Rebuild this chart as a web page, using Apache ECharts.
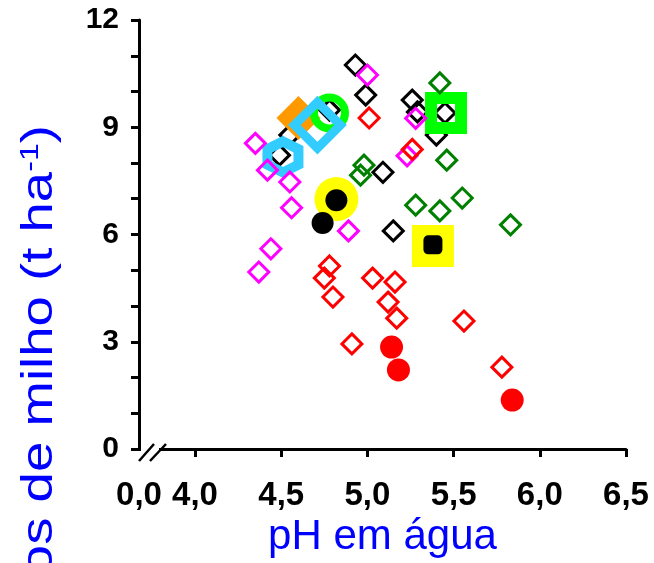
<!DOCTYPE html>
<html lang="pt">
<head>
    <meta charset="UTF-8">
    <title>Milho x pH</title>
    <script src="https://cdn.jsdelivr.net/npm/echarts@6/dist/echarts.min.js"></script>
</head>
<body style="margin:0">
<div id="main" style="width: 654px;height:563px;"></div>
<script>
    // valores [pH, t/ha]
    var magentaOpen = [[4.35,8.55],[4.42,7.8],[4.55,7.47],[4.56,6.75],[4.44,5.6],[4.37,4.95],[4.89,6.1],[5.0,10.46],[5.28,9.25],[5.23,8.2]];
    var redOpen = [[5.01,9.26],[5.26,8.38],[4.78,5.12],[4.75,4.78],[4.8,4.25],[5.03,4.78],[5.16,4.67],[5.12,4.11],[5.17,3.66],[4.91,2.94],[5.56,3.58],[5.78,2.29]];
    var redFilled = [[5.14,2.85],[5.18,2.21],[5.84,1.37]];
    var blackOpen = [[4.93,10.74],[4.99,9.9],[5.09,7.74],[4.49,8.22],[4.55,8.78],[4.78,9.48],[5.26,9.76],[5.29,9.43],[5.45,9.4],[5.4,8.78],[5.15,6.1]];
    var greenOpen = [[5.42,10.24],[5.46,8.08],[4.98,7.94],[4.96,7.66],[5.28,6.82],[5.42,6.66],[5.55,7.02],[5.83,6.27]];
    var blackFilled = [[4.82,6.96],[4.74,6.32]];
    var blackSquare = [[5.38,5.71]];
    var yellowCircle = [[4.82,6.99]];
    var yellowSquare = [[5.38,5.68]];
    var greenSquare = [[5.456,9.4]];
    var greenCircle = [[4.78,9.4]];
    var orangeDiamond = [[4.60,9.26]];
    var cyanDiamond = [[4.71,9.06]];
    var cyanHex = [[4.51,8.17]];

    var xMin = 3.675;
    var xTicks = [4.0, 4.5, 5.0, 5.5, 6.0, 6.5];
    var xLabels = [xMin].concat(xTicks);

    var hexagon = 'path://M50,0 L93.3,25 L93.3,75 L50,100 L6.7,75 L6.7,25 Z';

    function open(name, data, color, symbol, size, bw) {
        return {
            name: name, type: 'scatter', data: data,
            symbol: symbol, symbolSize: size,
            itemStyle: {color: 'transparent', borderColor: color, borderWidth: bw, opacity: 1}
        };
    }
    function filled(name, data, color, symbol, size) {
        return {
            name: name, type: 'scatter', data: data,
            symbol: symbol, symbolSize: size,
            itemStyle: {color: color, opacity: 1}
        };
    }

    var myChart = echarts.init(document.getElementById('main'));
    var option = {
        animation: false,
        grid: {left: 139, top: 20, right: 28, bottom: 114, outerBoundsMode: 'none'},
        xAxis: {
            type: 'value', min: xMin, max: 6.5,
            name: 'pH em água', nameLocation: 'middle', nameGap: 66,
            nameTextStyle: {color: '#0000ff', fontSize: 42, fontFamily: 'Liberation Sans'},
            splitLine: {show: false},
            axisLine: {lineStyle: {color: '#000', width: 3}},
            axisTick: {customValues: xTicks, length: 8, lineStyle: {color: '#000', width: 3}},
            axisLabel: {
                customValues: xLabels, margin: 30,
                color: '#000', fontSize: 33, fontWeight: 'bold',
                fontFamily: '"Liberation Sans Narrow", "Liberation Sans", Arial',
                formatter: function (v) {
                    if (v < 3.9) return '0,0';
                    return v.toFixed(1).replace('.', ',');
                }
            }
        },
        yAxis: {
            type: 'value', min: 0, max: 12, interval: 1,
            splitLine: {show: false},
            axisLine: {lineStyle: {color: '#000', width: 3}},
            axisTick: {length: 8, lineStyle: {color: '#000', width: 3}},
            axisLabel: {
                margin: 20, color: '#000', fontSize: 30, fontWeight: 'bold',
                fontFamily: 'Liberation Sans',
                formatter: function (v) { return v % 3 === 0 ? String(v) : ''; }
            }
        },
        series: [
            open('pretoAberto', blackOpen, '#000000', 'diamond', 20, 3),
            filled('laranja', orangeDiamond, '#ff9900', 'diamond', 44),
            open('verdeCirculo', greenCircle, '#00ff00', 'circle', 31, 8),
            open('cianoLosango', cyanDiamond, '#33ccff', 'diamond', 46, 9),
            open('cianoHex', cyanHex, '#33ccff', hexagon, 31, 10),
            filled('amareloCirculo', yellowCircle, '#ffff00', 'circle', 44),
            filled('amareloQuadrado', yellowSquare, '#ffff00', 'rect', 42),
            open('verdeQuadrado', greenSquare, '#00ff00', 'rect', 30, 12),
            open('magenta', magentaOpen, '#ff00ff', 'diamond', 20, 3),
            open('vermelho', redOpen, '#ff0000', 'diamond', 20, 3),
            open('verde', greenOpen, '#008000', 'diamond', 20, 3),
            filled('vermelhoCheio', redFilled, '#ff0000', 'circle', 23),
            filled('pretoCheio', blackFilled, '#000000', 'circle', 22),
            filled('pretoQuadrado', blackSquare, '#000000', 'roundRect', 19)
        ]
    };
    myChart.setOption(option);

    // quebra do eixo x e titulo do eixo y
    var origem = myChart.convertToPixel({gridIndex: 0}, [xMin, 0]);
    var topo = myChart.convertToPixel({gridIndex: 0}, [xMin, 12]);
    myChart.setOption({
        graphic: [
            {type: 'line', shape: {x1: origem[0] + 2, y1: origem[1], x2: origem[0] + 20, y2: origem[1]},
             style: {stroke: '#fff', lineWidth: 5}, z: 100},
            {type: 'line', shape: {x1: origem[0], y1: origem[1] + 12, x2: origem[0] + 15, y2: origem[1] - 5},
             style: {stroke: '#000', lineWidth: 2.5}, z: 101},
            {type: 'line', shape: {x1: origem[0] + 11, y1: origem[1] + 12, x2: origem[0] + 27, y2: origem[1] - 5},
             style: {stroke: '#000', lineWidth: 2.5}, z: 101},
            {type: 'text', x: 40, y: topo[1] + 105, rotation: Math.PI / 2, scaleX: 1.24, z: 101,
             style: {
                 text: '{n|Rendimento de grãos de milho (t ha}{s|-1}{n|)}',
                 align: 'right', verticalAlign: 'middle',
                 rich: {
                     n: {fontSize: 44, fontFamily: 'Liberation Sans', fill: '#0000ff'},
                     s: {fontSize: 26, fontFamily: 'Liberation Sans', fill: '#0000ff', verticalAlign: 'top', padding: [0, 0, 16, 0]}
                 }
             }}
        ]
    });
</script>
</body>
</html>
